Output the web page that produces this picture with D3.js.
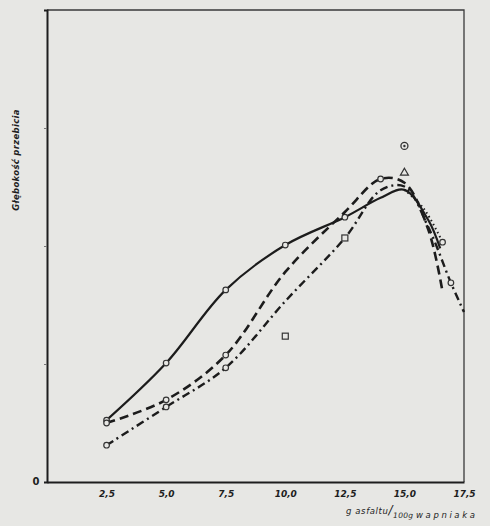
<!DOCTYPE html>
<html>
<head>
<meta charset="utf-8">
<script src="https://cdn.jsdelivr.net/npm/d3@7"></script>
<style>
  body { margin: 0; background: #e7e7e4; }
  text { font-family: "DejaVu Sans", sans-serif; fill: #1e1e1e; }
</style>
</head>
<body>
<script>
'use strict';

// osie
const xTicks = [2.5, 5, 7.5, 10, 12.5, 15, 17.5];
const xTickLabels = ["2,5", "5,0", "7,5", "10,0", "12,5", "15,0", "17,5"];
const yTicks = [25, 50, 75];

// krzywe (głębokość przebicia, jednostki umowne)
const solidX = [2.5, 5, 7.5, 10, 12.5, 14, 15, 16, 16.5];
const solidY = [13.1, 25.2, 40.7, 50.2, 56.1, 60.2, 61.9, 55.5, 49.5];
const solidMarks = [2.5, 5, 7.5, 10, 12.5];

const dashedX = [2.5, 5, 7.5, 10, 12.5, 14, 15, 16, 16.6];
const dashedY = [12.5, 17.4, 26.9, 44.5, 57.2, 64.2, 63.4, 53.5, 40.3];
const dashedMarks = [2.5, 5, 7.5, 14];

const dashDotX = [2.5, 5, 7.5, 10, 12.5, 14, 15, 16, 16.95, 17.5];
const dashDotY = [7.8, 15.9, 24.2, 38.3, 51.7, 61.8, 62.6, 54.0, 42.2, 36.0];
const dashDotMarks = [2.5, 5, 7.5, 16.95];

const dottedX = [15, 15.8, 16.6];
const dottedY = [61.9, 58.0, 50.8];
const dottedMarks = [16.6];

// pojedyncze punkty
const loneX = [10, 12.5, 15, 15];
const loneY = [30.9, 51.7, 71.2, 65.5];
const loneShape = ["square", "square", "ring", "triangle"];

const svg = d3.select("body").append("svg")
  .attr("width", 490)
  .attr("height", 526);

const x = d3.scaleLinear().domain([0, 17.5]).range([47, 464]);
const y = d3.scaleLinear().domain([0, 100]).range([482, 10]);

// ramka
svg.append("path")
  .attr("d", `M${x(0)},${y(100)}H${x(17.5)}V${y(0)}`)
  .attr("fill", "none")
  .attr("stroke", "#3a3a3a")
  .attr("stroke-width", 1.3);

// oś X
svg.append("g")
  .attr("transform", `translate(0,${y(0)})`)
  .call(d3.axisBottom(x).tickValues(xTicks).tickSize(0).tickPadding(9)
    .tickFormat((d, i) => xTickLabels[i]))
  .call(g => g.select(".domain").attr("stroke", "#1e1e1e").attr("stroke-width", 2))
  .call(g => g.selectAll("text")
    .attr("font-size", 9).attr("font-weight", "bold").attr("font-style", "italic")
    .attr("fill", "#1e1e1e"));

// oś Y
svg.append("g")
  .attr("transform", `translate(${x(0)},0)`)
  .call(d3.axisLeft(y).tickValues(yTicks).tickSize(3).tickFormat(""))
  .call(g => g.select(".domain").attr("stroke", "#1e1e1e").attr("stroke-width", 2))
  .call(g => g.selectAll("line").attr("stroke", "#777"));

svg.append("text")
  .attr("x", 36).attr("y", y(0) + 3)
  .attr("text-anchor", "middle")
  .attr("font-size", 10).attr("font-weight", "bold")
  .text("0");

svg.append("text")
  .attr("transform", "translate(19,160) rotate(-90)")
  .attr("text-anchor", "middle")
  .attr("font-size", 8.5).attr("font-style", "italic").attr("font-weight", "bold")
  .attr("letter-spacing", 0.3)
  .text("Głębokość przebicia");

const xl = svg.append("text")
  .attr("x", 346).attr("y", 514)
  .attr("font-size", 8.5).attr("font-style", "italic")
  .attr("letter-spacing", 0.6);
xl.append("tspan").text("g asfaltu");
xl.append("tspan").attr("font-size", 12).text("/");
xl.append("tspan").attr("dy", 4).attr("font-size", 7.5).attr("letter-spacing", 0.3).text("100g ");
xl.append("tspan").attr("font-size", 8.5).attr("letter-spacing", 2.6).text("wapniaka");

// linie
const line = d3.line()
  .x(d => x(d[0]))
  .y(d => y(d[1]))
  .curve(d3.curveCatmullRom.alpha(0.5));

const series = [
  {xs: solidX, ys: solidY, marks: solidMarks, dash: null, w: 2.2},
  {xs: dashedX, ys: dashedY, marks: dashedMarks, dash: "9,5", w: 2.6},
  {xs: dashDotX, ys: dashDotY, marks: dashDotMarks, dash: "8,4,2,4", w: 2.4},
  {xs: dottedX, ys: dottedY, marks: dottedMarks, dash: "1.5,3", w: 2}
];

series.forEach(s => {
  const pts = d3.zip(s.xs, s.ys);
  svg.append("path")
    .datum(pts)
    .attr("d", line)
    .attr("fill", "none")
    .attr("stroke", "#1c1c1c")
    .attr("stroke-width", s.w)
    .attr("stroke-dasharray", s.dash);
  svg.selectAll(null)
    .data(pts.filter(p => s.marks.includes(p[0])))
    .enter()
    .append("circle")
      .attr("cx", d => x(d[0]))
      .attr("cy", d => y(d[1]))
      .attr("r", 2.8)
      .attr("fill", "#e7e7e4")
      .attr("stroke", "#333")
      .attr("stroke-width", 1.2);
});

// pojedyncze punkty
const lone = d3.zip(loneX, loneY, loneShape);
lone.forEach(d => {
  const cx = x(d[0]), cy = y(d[1]);
  if (d[2] === "square") {
    svg.append("rect")
      .attr("x", cx - 3).attr("y", cy - 3).attr("width", 6).attr("height", 6)
      .attr("fill", "#e7e7e4").attr("stroke", "#333").attr("stroke-width", 1.2);
  } else if (d[2] === "ring") {
    svg.append("circle").attr("cx", cx).attr("cy", cy).attr("r", 3.5)
      .attr("fill", "none").attr("stroke", "#333").attr("stroke-width", 1.3);
    svg.append("circle").attr("cx", cx).attr("cy", cy).attr("r", 1.2).attr("fill", "#333");
  } else {
    svg.append("path")
      .attr("d", d3.symbol(d3.symbolTriangle, 28)())
      .attr("transform", `translate(${cx},${cy})`)
      .attr("fill", "none").attr("stroke", "#333").attr("stroke-width", 1.2);
  }
});
</script>
</body>
</html>
